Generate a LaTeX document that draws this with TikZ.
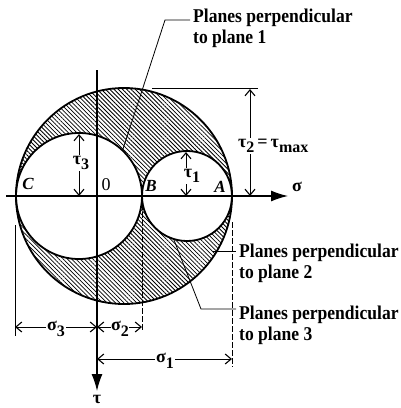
\documentclass[tikz,border=0pt]{standalone}
\usepackage{fontspec}
\setmainfont{Liberation Serif}
\newfontfamily\lbl{Liberation Serif}[FakeStretch=0.9]
\usetikzlibrary{arrows.meta,patterns.meta}
\newcommand\subsc[1]{\raisebox{-5.5pt}{\fontsize{16}{16}\selectfont #1}}
\begin{document}
\begin{tikzpicture}[x=1pt,y=-1pt,
  thickc/.style={line width=1.8pt},
  axis/.style={line width=1.3pt,-{Latex[length=17pt,width=11pt]}},
  dimar/.style={line width=0.9pt,-{Straight Barb[length=6pt,width=10pt,line width=1.1pt]}},
  ext/.style={line width=0.6pt},
  extd/.style={line width=0.6pt,dash pattern=on 6pt off 2pt},
  leader/.style={line width=0.8pt},
  note/.style={font=\lbl\bfseries\fontsize{19.5}{21}\selectfont, align=left, inner sep=0pt, anchor=north west},
  lab/.style={font=\bfseries\fontsize{18}{18}\selectfont, inner sep=1pt},
  ptl/.style={font=\bfseries\itshape\fontsize{17}{17}\selectfont, inner sep=0pt},
]
\useasboundingbox (0,0) rectangle (400,408);
\fill[white] (0,0) rectangle (400,408);

% hatched region between the circles
\path[pattern={Lines[angle=-45,distance=3pt,line width=0.8pt]}, even odd rule]
  (124,196) circle[radius=108] (79,196) circle[radius=63] (187,196) circle[radius=45];

% circles
\draw[thickc] (124,196) circle[radius=108];
\draw[thickc] (79,196) circle[radius=63];
\draw[thickc] (187,196) circle[radius=45];

% extension lines
\draw[ext] (15,225) -- (15,336);
\draw[extd] (142,196) -- (142,331);
\draw[extd] (232,222) -- (232,367);
\draw[ext] (152,88) -- (258,88);

% axes
\coordinate (sl) at (6,196);
\coordinate (sr) at (288,196);
\draw[axis] (sl) -- (sr);
\coordinate (tt) at (97,70);
\coordinate (tb) at (97,391);
\draw[axis] (tt) -- (tb);
\node[lab] (sig) at (297,187) {σ};
\node[lab, inner sep=0pt] (tau) at (97,399) {τ};

% points
\node[ptl] (C) at (28,184) {C};
\node[font=\fontsize{18}{18}\selectfont, inner sep=0pt] (O) at (106,185) {0};
\node[ptl] (B) at (151,186) {B};
\node[ptl] (A) at (220,187) {A};

% tau dimensions
\coordinate (t3top) at (79,134);
\coordinate (t3bot) at (79,196);
\node[lab] (t3) at (81,163) {τ\subsc{3}};
\draw[dimar] (t3top |- t3.north) -- (t3top);
\draw[dimar] (t3bot |- t3.south) -- (t3bot);

\coordinate (t1top) at (186,152);
\coordinate (t1bot) at (186,196);
\node[lab] (t1) at (192,176) {τ\subsc{1}};
\draw[dimar] (t1top |- t1.north) -- (t1top);
\draw[dimar] (t1bot |- t1.south) -- (t1bot);

\coordinate (t2top) at (250,89);
\coordinate (t2bot) at (250,196);
\node[lab, anchor=west] (t2) at (237,146) {τ\subsc{2}\,=\,τ\subsc{max}};
\draw[dimar] (t2top |- t2.north) -- (t2top);
\draw[dimar] (t2bot |- t2.south) -- (t2bot);

% sigma dimensions
\coordinate (cL) at (15,327);
\coordinate (oM) at (97,327);
\coordinate (bM) at (142,327);
\node[lab] (s3) at (56,329) {σ\subsc{3}};
\draw[dimar] (s3.west |- cL) -- (cL);
\draw[dimar] (s3.east |- cL) -- (oM);
\node[lab, inner sep=0pt] (s2) at (120,329) {σ\subsc{2}};
\draw[dimar] (s2.west |- oM) -- (oM);
\draw[dimar] (s2.east |- bM) -- (bM);

\coordinate (o1) at (97,359);
\coordinate (a1) at (232,359);
\node[lab] (s1) at (165,361) {σ\subsc{1}};
\draw[dimar] (s1.west |- o1) -- (o1);
\draw[dimar] (s1.east |- a1) -- (a1);

% notes and leaders
\node[note] (p1) at (193,9) {Planes perpendicular\\to plane 1};
\coordinate (l1a) at (123,149);
\coordinate (l1b) at (165,20);
\draw[leader] (l1a) -- (l1b) -- ([xshift=-3pt]p1.west |- l1b);

\node[note] (p2) at (239,244) {Planes perpendicular\\to plane 2};
\coordinate (l2a) at (213,251);
\draw[leader] (l2a) -- ([xshift=-3pt]p2.west |- l2a);

\node[note] (p3) at (239,306) {Planes perpendicular\\to plane 3};
\coordinate (l3a) at (174,240);
\coordinate (l3b) at (201,309);
\draw[leader] (l3a) -- (l3b) -- ([xshift=-3pt]p3.west |- l3b);
\end{tikzpicture}
\end{document}
